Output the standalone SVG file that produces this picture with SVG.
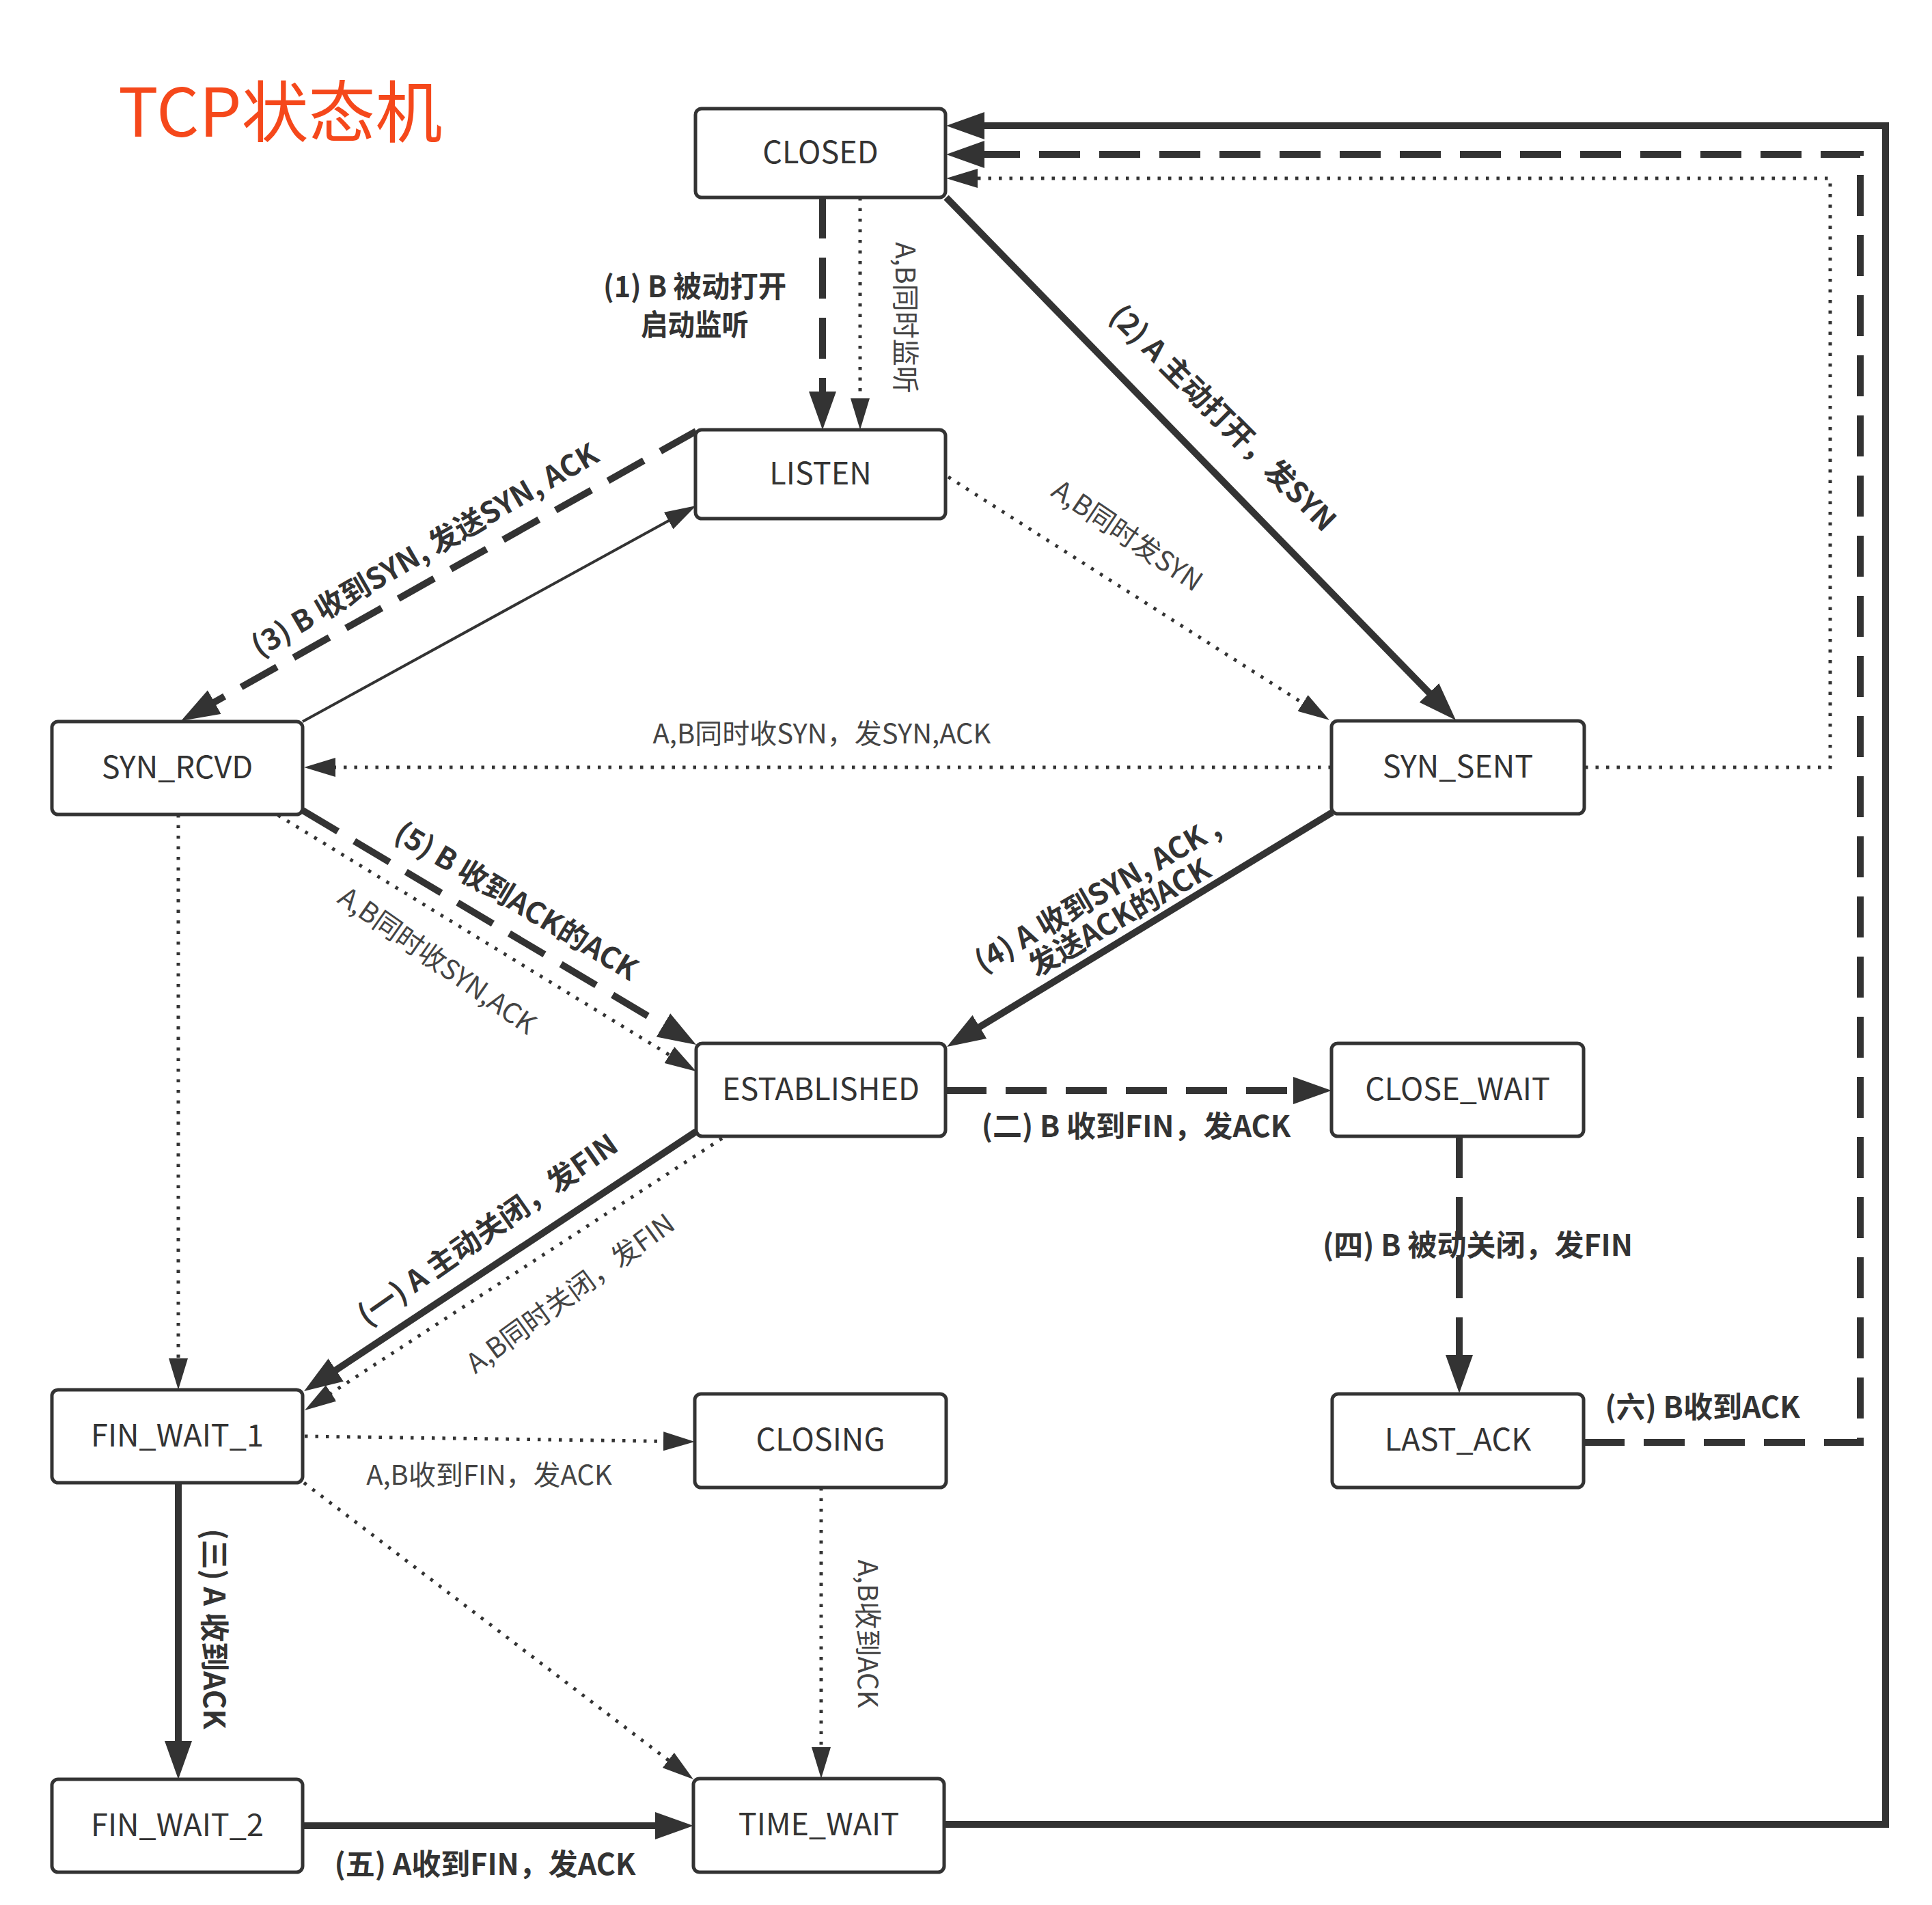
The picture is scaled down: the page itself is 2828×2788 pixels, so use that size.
<svg xmlns="http://www.w3.org/2000/svg" width="2828" height="2788" viewBox="0 0 2828 2788">
<defs>
<style>
.node rect{fill:#fff;stroke:#333;stroke-width:5}
.node text{font-family:'Noto Sans CJK SC','Noto Sans',sans-serif;font-size:45px;fill:#333;text-anchor:middle}
.c{fill:none;stroke:#333}
.thick{stroke-width:10}
.dash{stroke-dasharray:60 28}
.dot{stroke-width:5;stroke-dasharray:4.5 11}
.thin{stroke-width:4}
.lb{font-family:'Noto Sans CJK SC','Noto Sans',sans-serif;font-size:43px;font-weight:bold;fill:#333;text-anchor:middle}
.ln{font-family:'Noto Sans CJK SC','Noto Sans',sans-serif;font-size:40px;fill:#444;text-anchor:middle}
</style>
<marker id="ab" markerUnits="userSpaceOnUse" viewBox="0 0 56 40" markerWidth="56" markerHeight="40" refX="28" refY="20" orient="auto"><path d="M0,0 L56,20 L0,40 z" fill="#333"/></marker>
<marker id="as" markerUnits="userSpaceOnUse" viewBox="0 0 46 28" markerWidth="46" markerHeight="28" refX="26" refY="14" orient="auto"><path d="M0,0 L46,14 L0,28 z" fill="#333"/></marker>
</defs>
<rect width="2828" height="2788" fill="#fff"/>
<text x="173" y="200" font-family="'Noto Sans CJK SC','Noto Sans',sans-serif" font-size="98" fill="#F5481B">TCP状态机</text>

<g id="connectors">
<path class="c thick dash" d="M1204,289 V601" marker-end="url(#ab)"/>
<path class="c dot" d="M1259,289 V609" marker-end="url(#as)"/>
<path class="c thick" d="M1385,289 L2111.5,1034" marker-end="url(#ab)"/>
<path class="c dot" d="M1388,698 L1929,1043" marker-end="url(#as)"/>
<path class="c thick dash" d="M1019,631 L289.4,1041.3" marker-end="url(#ab)"/>
<path class="c thin" d="M443,1056 L1001.5,749.6" marker-end="url(#as)"/>
<path class="c dot" d="M1949,1123 H465" marker-end="url(#as)"/>
<path class="c thick dash" d="M443,1186 L995,1514.7" marker-end="url(#ab)"/>
<path class="c dot" d="M407,1193 L1002,1557.6" marker-end="url(#as)"/>
<path class="c thick" d="M1950,1189 L1410,1517.4" marker-end="url(#ab)"/>
<path class="c thick dash" d="M1384,1596 H1921" marker-end="url(#ab)"/>
<path class="c thick" d="M1019,1656 L468.4,2020.5" marker-end="url(#ab)"/>
<path class="c dot" d="M1057,1666 L462.8,2053.1" marker-end="url(#as)"/>
<path class="c dot" d="M261,1192 V2014" marker-end="url(#as)"/>
<path class="c dot" d="M446,2102 L997,2109.7" marker-end="url(#as)"/>
<path class="c dot" d="M445,2170 L999,2591.9" marker-end="url(#as)"/>
<path class="c thick" d="M261,2170 V2576" marker-end="url(#ab)"/>
<path class="c thick" d="M443,2672 H987" marker-end="url(#ab)"/>
<path class="c dot" d="M1202,2177 V2583" marker-end="url(#as)"/>
<path class="c thick dash" d="M2136,1664 V2011" marker-end="url(#ab)"/>
<path class="c thick dash" d="M2318,2111 H2723 V226 H1413" marker-end="url(#ab)"/>
<path class="c thick" d="M1382,2670 H2760 V184 H1413" marker-end="url(#ab)"/>
<path class="c dot" d="M2320,1123 H2679 V261 H1405" marker-end="url(#as)"/>
</g>

<g id="labels">
<text class="lb" x="1017" y="435" font-size="36" textLength="268" lengthAdjust="spacingAndGlyphs">(1) B 被动打开</text>
<text class="lb" x="1017" y="491" font-size="36" textLength="158" lengthAdjust="spacingAndGlyphs">启动监听</text>
<text class="ln" transform="translate(1325 465) rotate(90)" y="14">A,B同时监听</text>
<text class="lb" transform="translate(1790 612) rotate(45)" y="15">(2) A 主动打开，发SYN</text>
<text class="ln" transform="translate(1650 784) rotate(34)" y="14">A,B同时发SYN</text>
<text class="lb" transform="translate(622 805) rotate(-30)" y="15">(3) B 收到SYN, 发送SYN, ACK</text>
<text class="ln" x="1203" y="1088">A,B同时收SYN，发SYN,ACK</text>
<text class="lb" transform="translate(756 1319) rotate(31)" y="15">(5) B 收到ACK的ACK</text>
<text class="ln" transform="translate(640 1406) rotate(35)" y="14">A,B同时收SYN,ACK</text>
<text class="lb" transform="translate(1622 1326) rotate(-30)"><tspan x="-5" y="-7">(4) A 收到SYN, ACK ,</tspan><tspan x="6" y="38">发送ACK的ACK</tspan></text>
<text class="lb" x="1663" y="1664">(二) B 收到FIN，发ACK</text>
<text class="lb" transform="translate(714 1800) rotate(-35)" y="15">(一) A 主动关闭，发FIN</text>
<text class="ln" transform="translate(835 1893) rotate(-36)" y="14">A,B同时关闭，发FIN</text>
<text class="ln" x="716" y="2173">A,B收到FIN，发ACK</text>
<text class="lb" transform="translate(313 2384) rotate(90)" y="15">(三) A 收到ACK</text>
<text class="lb" x="710" y="2744">(五) A收到FIN，发ACK</text>
<text class="ln" transform="translate(1270 2391) rotate(90)" y="14">A,B收到ACK</text>
<text class="lb" x="2163" y="1838">(四) B 被动关闭，发FIN</text>
<text class="lb" x="2492" y="2075">(六) B收到ACK</text>
</g>

<g id="CLOSED" class="node"><rect x="1018" y="159" width="366" height="130" rx="9"/><text x="1201" y="239">CLOSED</text></g>
<g id="LISTEN" class="node"><rect x="1018" y="629" width="366" height="130" rx="9"/><text x="1201" y="709">LISTEN</text></g>
<g id="SYN_RCVD" class="node"><rect x="76" y="1056" width="367" height="136" rx="9"/><text x="259.5" y="1139">SYN_RCVD</text></g>
<g id="SYN_SENT" class="node"><rect x="1949" y="1055" width="370" height="136" rx="9"/><text x="2134" y="1138">SYN_SENT</text></g>
<g id="ESTABLISHED" class="node"><rect x="1019" y="1527" width="365" height="136" rx="9"/><text x="1201.5" y="1610">ESTABLISHED</text></g>
<g id="CLOSE_WAIT" class="node"><rect x="1949" y="1527" width="369" height="136" rx="9"/><text x="2133.5" y="1610">CLOSE_WAIT</text></g>
<g id="FIN_WAIT_1" class="node"><rect x="76" y="2034" width="367" height="136" rx="9"/><text x="259.5" y="2117">FIN_WAIT_1</text></g>
<g id="CLOSING" class="node"><rect x="1017" y="2040" width="368" height="137" rx="9"/><text x="1201" y="2123">CLOSING</text></g>
<g id="LAST_ACK" class="node"><rect x="1950" y="2040" width="368" height="137" rx="9"/><text x="2134" y="2123">LAST_ACK</text></g>
<g id="FIN_WAIT_2" class="node"><rect x="76" y="2604" width="367" height="136" rx="9"/><text x="259.5" y="2687">FIN_WAIT_2</text></g>
<g id="TIME_WAIT" class="node"><rect x="1015" y="2603" width="367" height="137" rx="9"/><text x="1198.5" y="2686">TIME_WAIT</text></g>
</svg>
